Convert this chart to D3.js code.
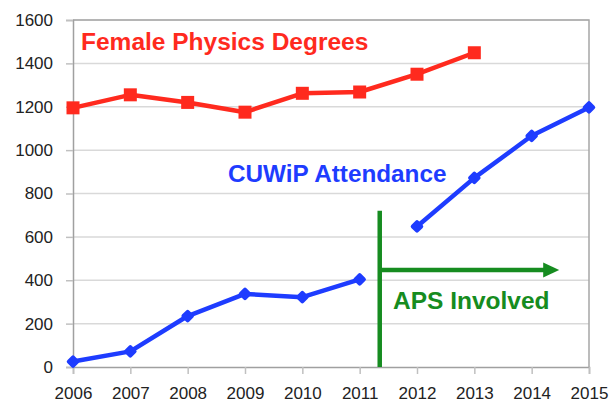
<!DOCTYPE html>
<html><head><meta charset="utf-8">
<script src="https://cdn.jsdelivr.net/npm/d3@7/dist/d3.min.js"></script>
<style>body{margin:0;background:#fff}svg{display:block}</style>
</head><body>
<svg id="c" width="613" height="404"></svg>
<script>
const years = [2006,2007,2008,2009,2010,2011,2012,2013,2014,2015];
const yTicks = [0,200,400,600,800,1000,1200,1400,1600];
const femaleYears = [2006,2007,2008,2009,2010,2011,2012,2013];
const femaleDegrees = [1195,1255,1220,1175,1262,1268,1350,1449];
const cuwipYearsBefore = [2006,2007,2008,2009,2010,2011];
const cuwipBefore = [25,72,235,337,322,404];
const cuwipYearsAfter = [2012,2013,2014,2015];
const cuwipAfter = [648,872,1066,1197];
const apsYear = 2011.35;
const apsArrowEndYear = 2014.48;
const apsArrowValue = 447;
const apsLineTop = 720;

const svg = d3.select("#c");
const m = {l:73, r:589, t:20, b:367};
const x = d3.scaleLinear().domain([2006,2015]).range([m.l,m.r]);
const y = d3.scaleLinear().domain([0,1600]).range([m.b,m.t]);

const red = "#ff2a1e", blue = "#1e3cff", green = "#168c20";
const labelFont = "'Liberation Sans', Arial, sans-serif";

// gridlines
svg.append("g").selectAll("line").data(yTicks.filter(d=>d>0)).join("line")
  .attr("x1",m.l).attr("x2",m.r).attr("y1",d=>y(d)).attr("y2",d=>y(d))
  .attr("stroke","#d9d9d9").attr("stroke-width",1.5);
// border top & right
svg.append("path").attr("d",`M${m.l},${m.t}H${m.r}V${m.b}`).attr("fill","none")
  .attr("stroke","#a6a6a6").attr("stroke-width",1.5);

// axes
const xAxis = svg.append("g").attr("transform",`translate(0,${m.b})`)
  .call(d3.axisBottom(x).tickValues(years).tickFormat(d3.format("d")).tickSize(7).tickPadding(13));
xAxis.select(".domain").attr("stroke","#a0a0a0").attr("stroke-width",1.5);
xAxis.selectAll(".tick line").attr("stroke","#c0c0c0").attr("stroke-width",1.5);
xAxis.selectAll("text").attr("font-family",labelFont).attr("font-size",17).attr("fill","#222");

const yAxis = svg.append("g").attr("transform",`translate(${m.l},0)`)
  .call(d3.axisLeft(y).tickValues(yTicks).tickFormat(d3.format("d")).tickSize(7).tickPadding(13));
yAxis.select(".domain").attr("stroke","#a0a0a0").attr("stroke-width",1.5);
yAxis.selectAll(".tick line").attr("stroke","#c0c0c0").attr("stroke-width",1.5);
yAxis.selectAll("text").attr("font-family",labelFont).attr("font-size",17).attr("fill","#222");

// green APS marker
svg.append("line").attr("x1",x(apsYear)).attr("x2",x(apsYear))
  .attr("y1",y(apsLineTop)).attr("y2",y(0)).attr("stroke",green).attr("stroke-width",4.5);
const ax1 = x(apsYear), ax2 = x(apsArrowEndYear), ay = y(apsArrowValue);
svg.append("line").attr("x1",ax1).attr("x2",ax2-14).attr("y1",ay).attr("y2",ay)
  .attr("stroke",green).attr("stroke-width",4.5);
svg.append("path").attr("d",`M${ax2},${ay}L${ax2-16},${ay-7.5}L${ax2-16},${ay+7.5}Z`).attr("fill",green);

// lines
const line = d3.line().x(d=>x(d[0])).y(d=>y(d[1]));
const femaleData = femaleYears.map((yr,i)=>[yr,femaleDegrees[i]]);
const before = cuwipYearsBefore.map((yr,i)=>[yr,cuwipBefore[i]]);
const after = cuwipYearsAfter.map((yr,i)=>[yr,cuwipAfter[i]]);

svg.append("path").datum(femaleData).attr("d",line).attr("fill","none")
  .attr("stroke",red).attr("stroke-width",4.5).attr("stroke-linejoin","round");
svg.append("g").selectAll("rect").data(femaleData).join("rect")
  .attr("x",d=>x(d[0])-6.5).attr("y",d=>y(d[1])-6.5).attr("width",13).attr("height",13).attr("fill",red);

[before,after].forEach(seg=>{
  svg.append("path").datum(seg).attr("d",line).attr("fill","none")
    .attr("stroke",blue).attr("stroke-width",4.5).attr("stroke-linejoin","round").attr("stroke-linecap","round");
  svg.append("g").selectAll("path").data(seg).join("path")
    .attr("d",d3.symbol(d3.symbolSquare,36))
    .attr("transform",d=>`translate(${x(d[0])},${y(d[1])}) rotate(45)`)
    .attr("fill",blue).attr("stroke",blue).attr("stroke-width",4).attr("stroke-linejoin","round");
});

// text labels
const big = "'Liberation Sans', Arial, sans-serif";
svg.append("text").attr("x",81).attr("y",50).attr("font-family",big).attr("font-weight","bold")
  .attr("font-size",24.5).attr("fill",red).text("Female Physics Degrees");
svg.append("text").attr("x",228).attr("y",182).attr("font-family",big).attr("font-weight","bold")
  .attr("font-size",24.3).attr("fill",blue).text("CUWiP Attendance");
svg.append("text").attr("x",393).attr("y",309).attr("font-family",big).attr("font-weight","bold")
  .attr("font-size",24.5).attr("fill",green).text("APS Involved");
</script>
</body></html>
